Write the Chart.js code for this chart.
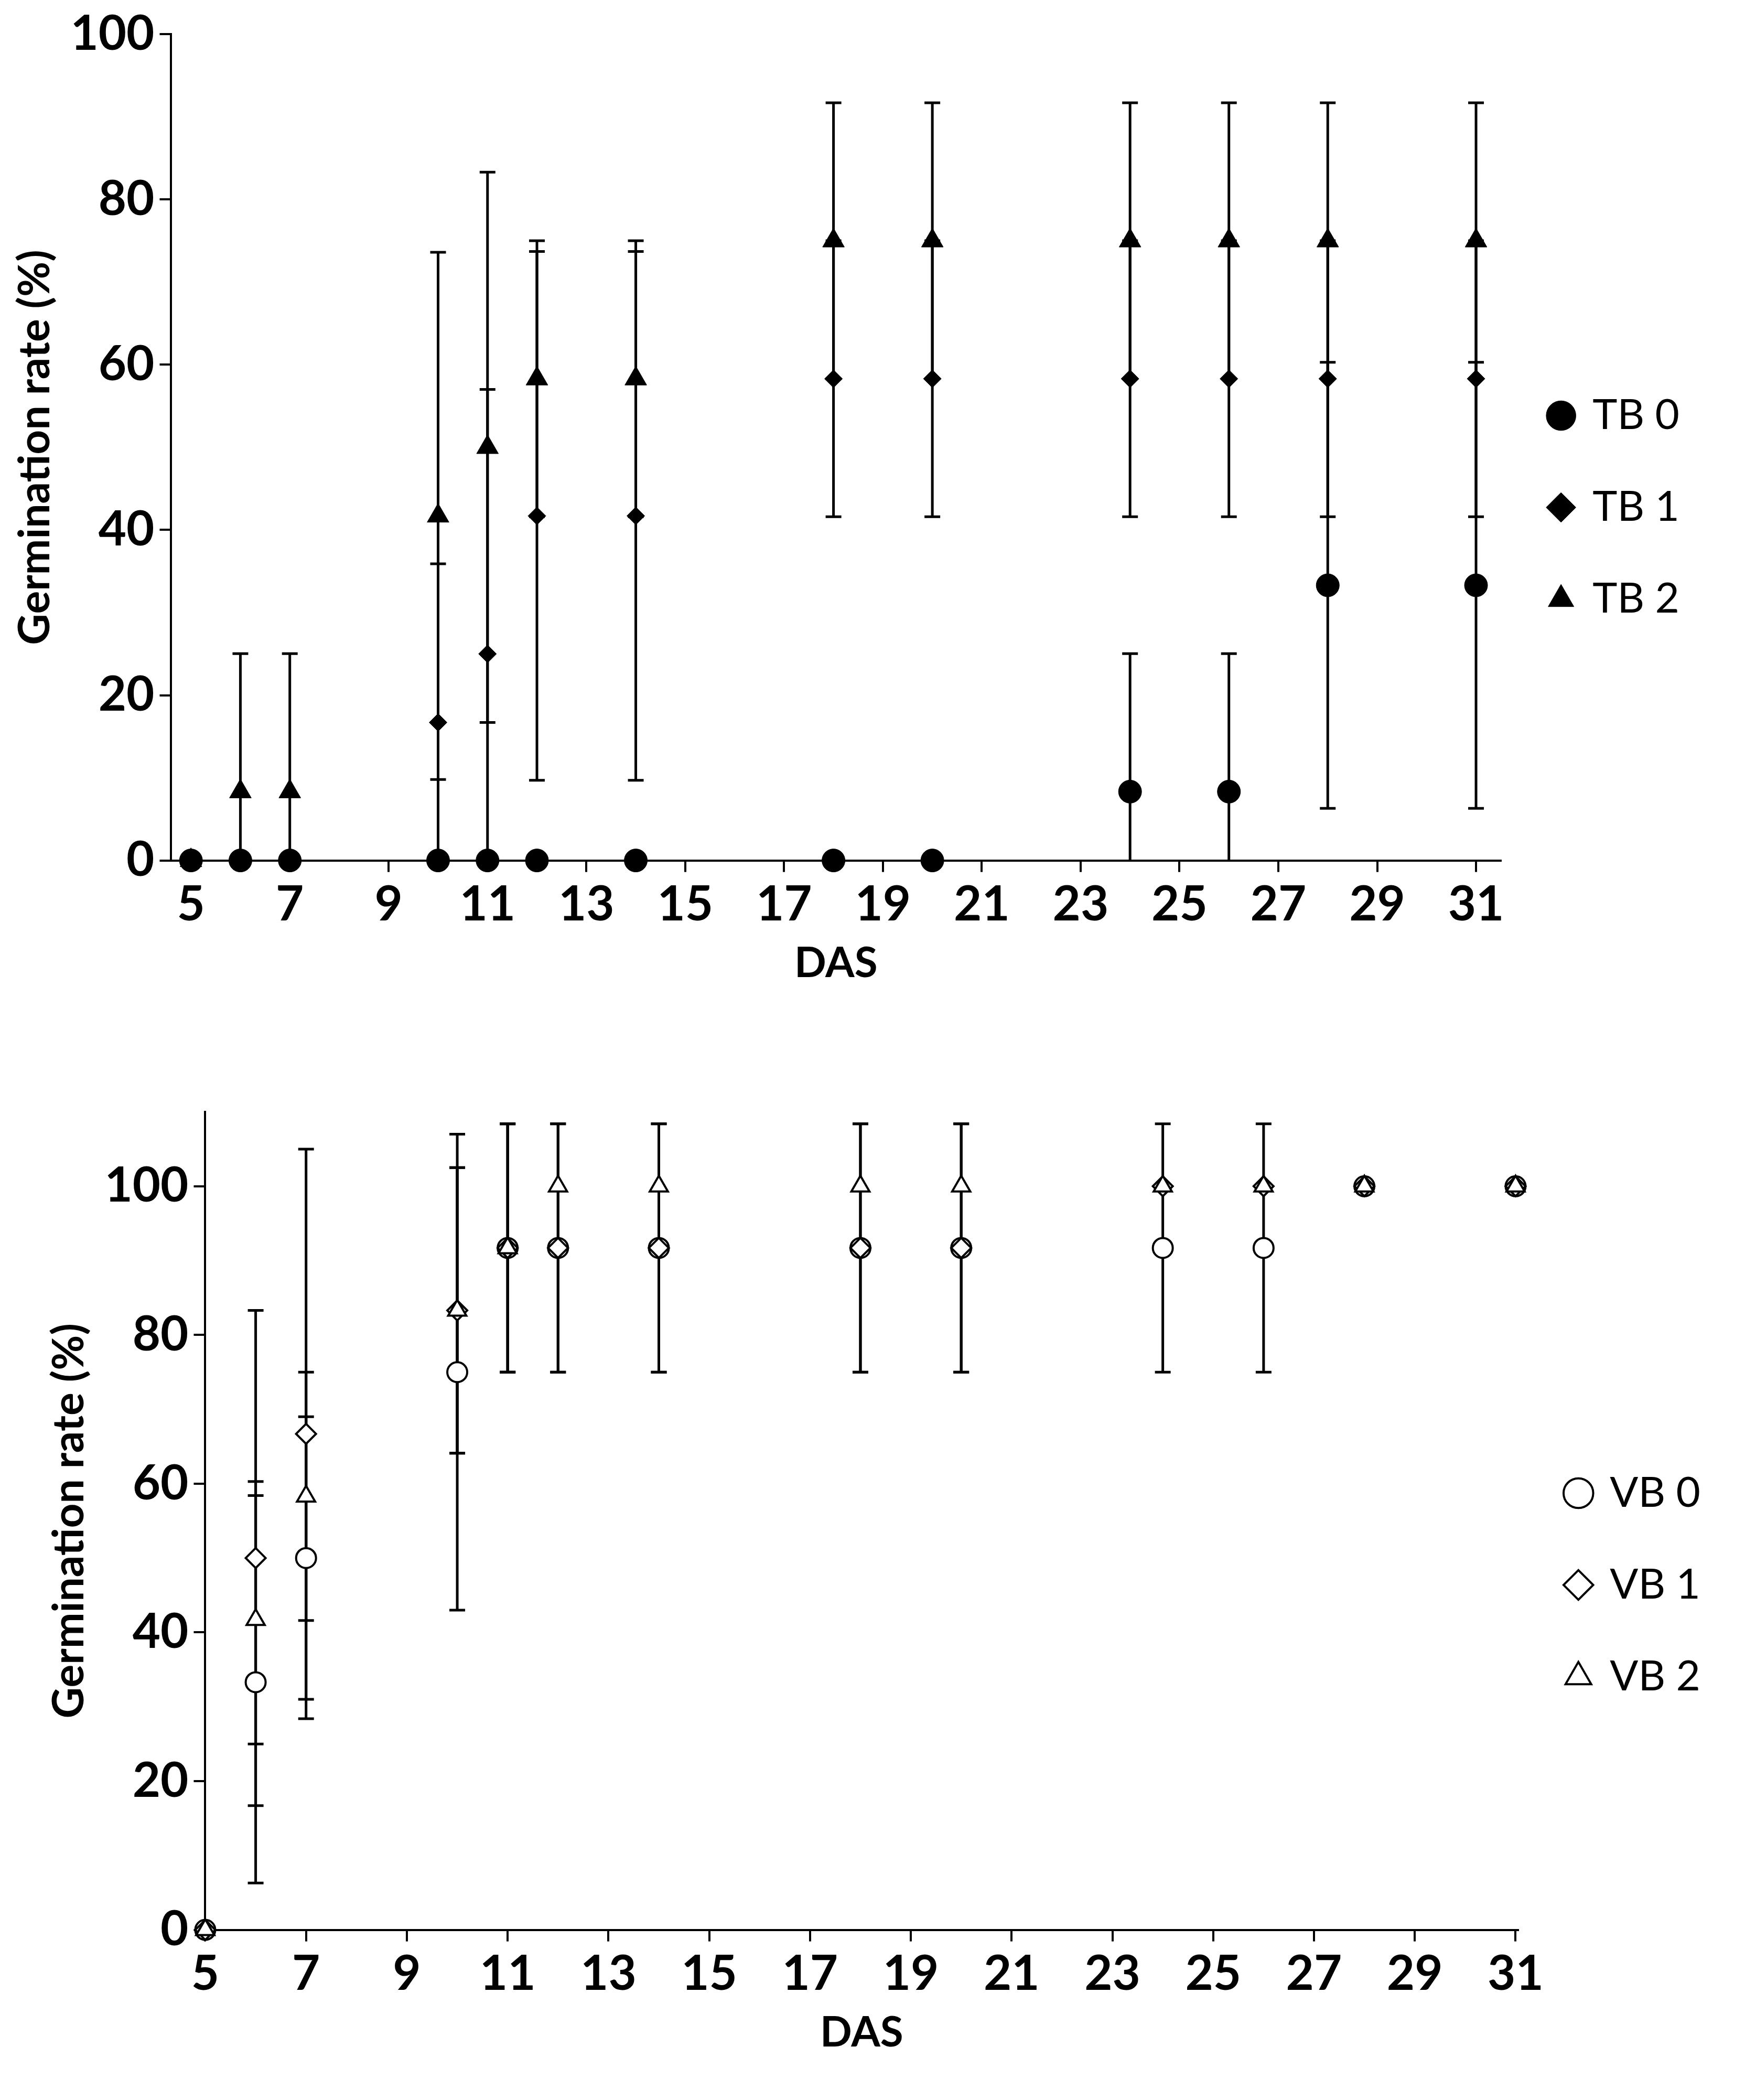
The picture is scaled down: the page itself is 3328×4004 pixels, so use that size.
<!DOCTYPE html>
<html><head><meta charset="utf-8">
<script src="https://cdn.jsdelivr.net/npm/chart.js@4/dist/chart.umd.min.js"></script>
<style>body{margin:0;background:#fff}canvas{position:absolute;left:0}</style>
</head><body>
<canvas id="c1" width="3328" height="2000" style="top:0"></canvas>
<canvas id="c2" width="3328" height="2004" style="top:2000px"></canvas>
<script>
const days=[5,6,7,10,11,12,14,18,20,24,26,28,31];
const xTicks=[5,7,9,11,13,15,17,19,21,23,25,27,29,31];
const yTicks=[0,20,40,60,80,100];
const tb0=[0,0,0,0,0,0,0,0,0,8.33,8.33,33.3,33.3];
const tb0Err=[0,0,0,0,0,0,0,0,0,16.7,16.7,27,27];
const tb1=[0,0,0,16.7,25,41.7,41.7,58.3,58.3,58.3,58.3,58.3,58.3];
const tb1Err=[0,0,0,19.2,32,32,32,16.7,16.7,16.7,16.7,16.7,16.7];
const tb2=[0,8.33,8.33,41.7,50,58.3,58.3,75,75,75,75,75,75];
const tb2Err=[0,16.7,16.7,31.9,33.3,16.7,16.7,16.7,16.7,16.7,16.7,16.7,16.7];
const vb0=[0,33.3,50,75,91.7,91.7,91.7,91.7,91.7,91.7,91.7,100,100];
const vb0Err=[0,27,19,32,16.7,16.7,16.7,16.7,16.7,16.7,16.7,0,0];
const vb1=[0,50,66.7,83.3,91.7,91.7,91.7,91.7,91.7,100,100,100,100];
const vb1Err=[0,33.3,38.3,19.2,16.7,16.7,16.7,16.7,16.7,0,0,0,0];
const vb2=[0,41.7,58.3,83.3,91.7,100,100,100,100,100,100,100,100];
const vb2Err=[0,16.7,16.7,19.2,16.7,0,0,0,0,0,0,0,0];

const FONT='Lato';
const errPlugin={id:'err',beforeDatasetsDraw(chart){
  const ctx=chart.ctx,xs=chart.scales.x,ys=chart.scales.y;
  ctx.save();ctx.strokeStyle='#000';ctx.lineWidth=5;
  chart.data.datasets.forEach(ds=>{
    ds.data.forEach((p,i)=>{const e=ds.errors[i];if(!e)return;
      const x=xs.getPixelForValue(p.x);
      const lo=Math.max(p.y-e,ys.min),hi=p.y+e;
      const y1=ys.getPixelForValue(lo),y2=ys.getPixelForValue(hi);
      ctx.beginPath();ctx.moveTo(x,y1);ctx.lineTo(x,y2);
      ctx.moveTo(x-15,y2);ctx.lineTo(x+15,y2);
      if(p.y-e>=ys.min){ctx.moveTo(x-15,y1);ctx.lineTo(x+15,y1);}
      ctx.stroke();});
  });ctx.restore();}};

function ds(label,vals,errs,style,open,r,order){
  return {label,order,clip:false,data:days.map((d,i)=>({x:d,y:vals[i]})),errors:errs,pointStyle:style,
    pointRadius:r,pointHoverRadius:r,backgroundColor:open?'#fff':'#000',borderColor:'#000',
    borderWidth:open?4:1,showLine:false};
}
function make(id,sets,xmin,xmax,ymax,pad){
  new Chart(document.getElementById(id),{type:'scatter',data:{datasets:sets},plugins:[errPlugin],
  options:{responsive:false,animation:false,devicePixelRatio:1,layout:{padding:pad},
   plugins:{tooltip:{enabled:false},legend:{position:'right',labels:{usePointStyle:true,boxWidth:40,boxHeight:40,padding:95,color:'#000',font:{family:FONT,size:80},sort:(a,b)=>a.datasetIndex-b.datasetIndex}}},
   scales:{
    x:{type:'linear',min:xmin,max:xmax,afterBuildTicks:a=>{a.ticks=xTicks.map(v=>({value:v}))},
      grid:{drawOnChartArea:false,color:'#000',lineWidth:4,tickLength:22},border:{color:'#000',width:4},
      ticks:{color:'#000',font:{family:FONT,size:92,weight:'bold'},maxRotation:0,autoSkip:false,padding:8},
      title:{display:true,text:'DAS',color:'#000',font:{family:FONT,size:80,weight:'bold'},padding:0}},
    y:{min:0,max:ymax,afterBuildTicks:a=>{a.ticks=yTicks.map(v=>({value:v}))},
      grid:{drawOnChartArea:false,color:'#000',lineWidth:4,tickLength:22},border:{color:'#000',width:4},
      ticks:{color:'#000',font:{family:FONT,size:92,weight:'bold'},padding:10},
      title:{display:true,text:'Germination rate (%)',color:'#000',font:{family:FONT,size:82,weight:'bold'},padding:8}}
   }}});
}
make('c1',[ds('TB 0',tb0,tb0Err,'circle',false,22,2),ds('TB 1',tb1,tb1Err,'rectRot',false,17,1),ds('TB 2',tb2,tb2Err,'triangle',false,24,0)],4.6,31.5,100,{top:50,right:115,left:10,bottom:115});
make('c2',[ds('VB 0',vb0,vb0Err,'circle',true,19,2),ds('VB 1',vb1,vb1Err,'rectRot',true,19,1),ds('VB 2',vb2,vb2Err,'triangle',true,20,0)],5,31.05,110,{top:120,right:75,left:75,bottom:80});
</script></body></html>
